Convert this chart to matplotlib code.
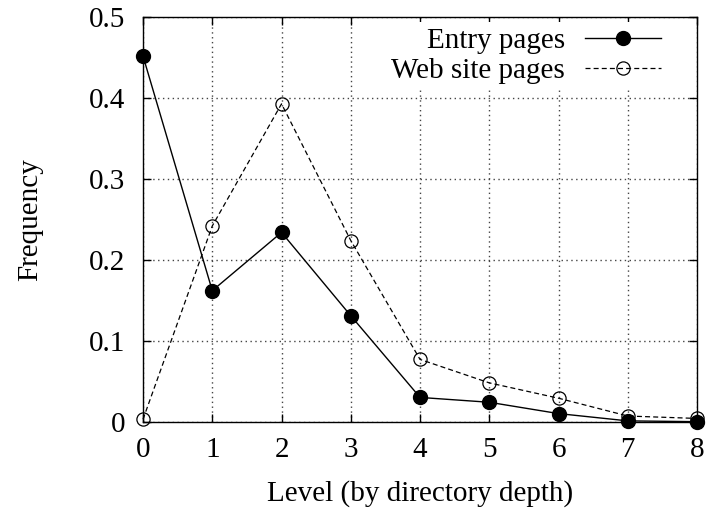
import matplotlib.pyplot as plt

plt.rcParams['font.family'] = ['Liberation Serif', 'DejaVu Serif']

levels = [0, 1, 2, 3, 4, 5, 6, 7, 8]
entry_pages = [0.452, 0.162, 0.234, 0.131, 0.030, 0.024, 0.010, 0.001, 0.0]
site_pages = [0.003, 0.242, 0.393, 0.224, 0.077, 0.048, 0.029, 0.007, 0.004]
yticks = [0, 0.1, 0.2, 0.3, 0.4, 0.5]
ytick_labels = ['0', '0.1', '0.2', '0.3', '0.4', '0.5']

fig = plt.figure(figsize=(7.07, 5.15), dpi=100)
ax = fig.add_axes([0.2023, 0.1812, 0.7836, 0.7852])

ax.plot(levels, entry_pages, '-', color='black', lw=1.0, marker='o',
        markersize=10, markerfacecolor='black', label='Entry pages', clip_on=False, zorder=3)
ax.plot(levels, site_pages, color='black', lw=0.9, ls=(0, (4, 2.5)), marker='o',
        markersize=9.5, markerfacecolor='none', markeredgewidth=0.9,
        label='Web site pages', clip_on=False, zorder=3)

ax.set_xlim(0, 8)
ax.set_ylim(0, 0.5)
ax.set_xticks(levels)
ax.set_yticks(yticks)
ax.set_yticklabels(ytick_labels)
ax.grid(True, color='#444444', ls=(0, (1, 2.5)), lw=1.0)
ax.tick_params(direction='in', top=True, right=True, length=6, width=1,
               labelsize=21)
ax.tick_params(axis='x', pad=11)
ax.tick_params(axis='y', pad=13)
for s in ax.spines.values():
    s.set_linewidth(1.0)

ax.set_xlabel('Level (by directory depth)', fontsize=21, labelpad=12)
ax.set_ylabel('Frequency', fontsize=21, labelpad=33)

leg = ax.legend(loc='upper right', bbox_to_anchor=(0.9434, 0.958),
                bbox_transform=fig.transFigure, fontsize=21, markerfirst=False,
                handlelength=2.6, frameon=True, fancybox=False, borderpad=0.2,
                labelspacing=0.14, handletextpad=0.7, borderaxespad=0)
leg.get_frame().set_edgecolor('none')
leg.get_frame().set_facecolor('white')
leg.get_frame().set_alpha(1)
leg.set_zorder(5)
leg._legend_box.align = 'right'

fig.savefig('out.png', dpi=100)
